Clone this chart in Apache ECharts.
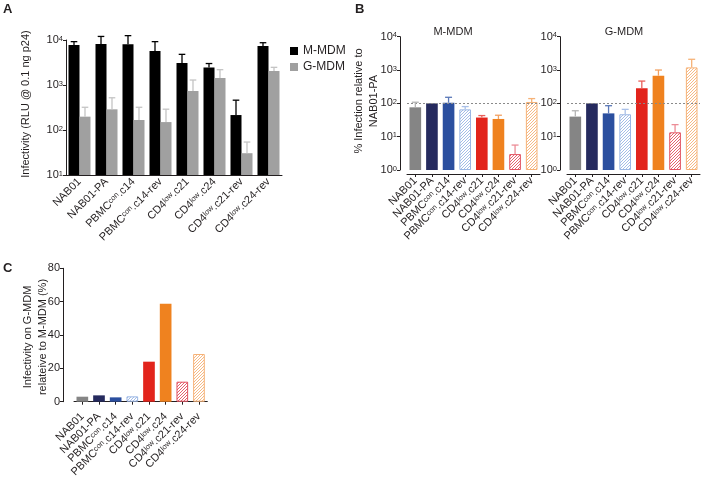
<!DOCTYPE html>
<html><head><meta charset="utf-8">
<script src="https://cdn.jsdelivr.net/npm/echarts@6/dist/echarts.min.js"></script>
<style>html,body{margin:0;padding:0;background:#fff}#c{width:702px;height:483px}</style>
</head><body><div id="c"></div>
<script>
// ---------- data ----------
const categories = ['NAB01','NAB01-PA','PBMC{s|con}.c14','PBMC{s|con}.c14-rev','CD4{s|low}.c21','CD4{s|low}.c24','CD4{s|low}.c21-rev','CD4{s|low}.c24-rev'];
// Panel A: RLU @ 0.1 ng p24
const aMMDM    = [7700, 8100, 8000, 5700, 3080, 2460, 215, 7350];
const aMMDMErr = [9200, 12000, 12500, 9200, 4800, 3000, 460, 8700];
const aGMDM    = [198, 288, 167, 150, 735, 1430, 30.5, 2050];
const aGMDMErr = [320, 520, 320, 290, 1290, 2190, 54, 2470];
// Panel B: % infection relative to NAB01-PA
const bMMDM    = [76, 100, 105, 66, 37.5, 34, 3.0, 110];
const bMMDMErr = [108, 100, 152, 80, 43, 44, 5.6, 139];
const bGMDM    = [40, 100, 50, 47, 285, 675, 13.5, 1200];
const bGMDMErr = [60, 100, 85, 66, 466, 1000, 23, 2100];
const bRefLine = 100;
// Panel C: G-MDM relative to M-MDM (%)
const cRatio   = [3.0, 3.8, 2.6, 3.2, 24, 58.8, 12, 28.6];
const cTicks   = {min: 0, max: 80, interval: 20};

// ---------- styles ----------
const catColors = ['#858585','#252a5e','#2b4f9f','#9ab6e4','#e2241c','#ef821f','#e2505f','#f6b277'];
const errColors = ['#b5b5b5','#252a5e','#5a78b8','#a9c0e8','#e9605a','#f3a060','#ec8c96','#f6b277'];
const catHatched = [false,false,false,true,false,false,true,true];

function hatchCanvas(color){
  const n=3;
  const c=document.createElement('canvas'); c.width=n; c.height=n;
  const g=c.getContext('2d'); g.fillStyle='#fff'; g.fillRect(0,0,n,n);
  g.strokeStyle=color; g.lineWidth=0.9;
  g.beginPath(); g.moveTo(0,n); g.lineTo(n,0); g.moveTo(-1,1); g.lineTo(1,-1); g.moveTo(n-1,n+1); g.lineTo(n+1,n-1); g.stroke();
  return c;
}
function catStyle(i){
  if(catHatched[i]) return {color:{image:hatchCanvas(catColors[i]),repeat:'repeat'},borderColor:catColors[i],borderWidth:1};
  return {color:catColors[i]};
}
const FONT='"Liberation Sans", Arial, sans-serif';
const TXT='#231f20';
const rich={s:{fontSize:7.5,verticalAlign:'top',lineHeight:9,fontFamily:FONT,color:TXT}};
const supLog=v=>'10{s|'+Math.round(Math.log10(v))+'}';

function errSeries(xi,yi,vals,tops,colorFn,shift,gapFrac){
  return {type:'custom',xAxisIndex:xi,yAxisIndex:yi,z:5,silent:true,
    data:vals.map((v,i)=>[i,tops[i],v]),
    renderItem:function(params,api){
      const i=api.value(0),top=api.value(1),v=api.value(2);
      if(top<=v) return null;
      const color=colorFn(i);
      const band=api.size([1,0])[0];
      const bw=band*(1-gapFrac)/(shift===0?1:2);
      const p0=api.coord([i,v]),p1=api.coord([i,top]);
      const x=p0[0]+shift*bw/2;
      const cw=bw*0.3;
      return {type:'group',children:[
        {type:'line',shape:{x1:x,y1:p0[1],x2:x,y2:p1[1]},style:{stroke:color,lineWidth:1.3}},
        {type:'line',shape:{x1:x-cw,y1:p1[1],x2:x+cw,y2:p1[1]},style:{stroke:color,lineWidth:1.3}}
      ]};
    }};
}

const logY=(gi,offset)=>({type:'log',logBase:10,gridIndex:gi,min:1,max:1e4,offset:offset,
  axisLine:{show:true,lineStyle:{color:'#231f20',width:1}},
  axisTick:{show:true,length:3,lineStyle:{color:'#231f20'}},
  splitLine:{show:false},
  axisLabel:{formatter:supLog,rich:rich,fontSize:11,color:TXT,fontFamily:FONT,margin:3}});

const catX=(gi,offset,ticks)=>({type:'category',gridIndex:gi,data:categories,offset:offset,
  axisLine:{lineStyle:{color:'#231f20',width:1}},
  axisTick:{show:ticks,length:3,alignWithLabel:true,lineStyle:{color:'#231f20'}},
  axisLabel:{rotate:45,interval:0,fontSize:11,color:TXT,fontFamily:FONT,rich:rich,margin:5}});

const yA=logY(0,0); yA.min=10;
const yB1=logY(1,7); const yB2=logY(2,7);

const option={
  animation:false,
  textStyle:{fontFamily:FONT},
  grid:[
    {left:66,top:40,width:216,height:135},
    {left:407,top:36.7,width:133,height:133.3},
    {left:567,top:36.7,width:133,height:133.3},
    {left:74,top:268.3,width:133.3,height:133.4}
  ],
  legend:{data:['M-MDM','G-MDM'],orient:'vertical',left:285,top:40,icon:'rect',itemWidth:8,itemHeight:8,itemGap:4,
    textStyle:{fontSize:12,color:TXT,fontFamily:FONT}},
  xAxis:[catX(0,0,false),catX(1,4,true),catX(2,4,true),catX(3,8,true)],
  yAxis:[yA,yB1,yB2,
    {type:'value',gridIndex:3,min:cTicks.min,max:cTicks.max,interval:cTicks.interval,offset:11,
     axisLine:{show:true,lineStyle:{color:'#231f20'}},axisTick:{show:true,length:3,lineStyle:{color:'#231f20'}},
     splitLine:{show:false},axisLabel:{fontSize:11,color:TXT,fontFamily:FONT,margin:3}}],
  graphic:[
    {type:'text',left:3,top:3,style:{text:'A',font:'bold 13px '+FONT,fill:TXT}},
    {type:'text',left:355,top:3,style:{text:'B',font:'bold 13px '+FONT,fill:TXT}},
    {type:'text',left:3,top:262,style:{text:'C',font:'bold 13px '+FONT,fill:TXT}},
    {type:'text',x:26,y:104,rotation:Math.PI/2,style:{text:'Infectivity (RLU @ 0.1 ng p24)',font:'11px '+FONT,fill:TXT,align:'center',verticalAlign:'middle'}},
    {type:'text',x:366,y:101,rotation:Math.PI/2,style:{text:'% Infection relative to\nNAB01-PA',font:'11px '+FONT,fill:TXT,align:'center',verticalAlign:'middle',lineHeight:15}},
    {type:'text',x:35,y:337,rotation:Math.PI/2,style:{text:'Infectivity on G-MDM\nrelateive to M-MDM (%)',font:'11px '+FONT,fill:TXT,align:'center',verticalAlign:'middle',lineHeight:15}},
    {type:'text',x:453,y:32,style:{text:'M-MDM',font:'11px '+FONT,fill:TXT,align:'center',verticalAlign:'middle'}},
    {type:'text',x:624,y:32,style:{text:'G-MDM',font:'11px '+FONT,fill:TXT,align:'center',verticalAlign:'middle'}}
  ],
  series:[
    {name:'M-MDM',type:'bar',xAxisIndex:0,yAxisIndex:0,data:aMMDM,barGap:'0%',barCategoryGap:'18.5%',itemStyle:{color:'#000'}},
    {name:'G-MDM',type:'bar',xAxisIndex:0,yAxisIndex:0,data:aGMDM,barGap:'0%',barCategoryGap:'18.5%',itemStyle:{color:'#a0a0a0'}},
    errSeries(0,0,aMMDM,aMMDMErr,()=>'#000',-1,0.185),
    errSeries(0,0,aGMDM,aGMDMErr,()=>'#c4c4c4',1,0.185),
    {type:'bar',xAxisIndex:1,yAxisIndex:1,barCategoryGap:'30%',data:bMMDM.map((v,i)=>({value:v,itemStyle:catStyle(i)})),
     markLine:{silent:true,symbol:'none',label:{show:false},lineStyle:{color:'#8a8a8a',type:[2,2],width:1},data:[{yAxis:bRefLine}]}},
    {type:'bar',xAxisIndex:2,yAxisIndex:2,barCategoryGap:'30%',data:bGMDM.map((v,i)=>({value:v,itemStyle:catStyle(i)})),
     markLine:{silent:true,symbol:'none',label:{show:false},lineStyle:{color:'#8a8a8a',type:[2,2],width:1},data:[{yAxis:bRefLine}]}},
    {type:'bar',xAxisIndex:3,yAxisIndex:3,barCategoryGap:'30%',data:cRatio.map((v,i)=>({value:v,itemStyle:catStyle(i)}))},
    errSeries(1,1,bMMDM,bMMDMErr,i=>errColors[i],0,0.3),
    errSeries(2,2,bGMDM,bGMDMErr,i=>errColors[i],0,0.3)
  ]
};
const chart=echarts.init(document.getElementById('c'),null,{renderer:'canvas'});
chart.setOption(option);
</script></body></html>
